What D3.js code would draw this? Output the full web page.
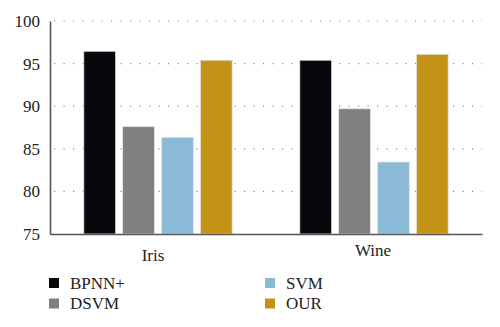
<!DOCTYPE html>
<html><head><meta charset="utf-8">
<script src="https://cdnjs.cloudflare.com/ajax/libs/d3/7.8.5/d3.min.js"></script>
<style>body{margin:0;background:#fff}svg{display:block}svg text{font-family:"Liberation Serif","DejaVu Serif",serif}</style>
</head><body>
<script>
const categories = ["Iris", "Wine"];
const seriesNames = ["BPNN+", "DSVM", "SVM", "OUR"];
const BPNN = [96.45, 95.4];
const DSVM = [87.6, 89.7];
const SVM = [86.35, 83.45];
const OUR = [95.4, 96.1];
const yTicks = [75, 80, 85, 90, 95, 100];
const colors = ["#08080c", "#808080", "#8bbad6", "#c39318"];
const seriesValues = [BPNN, DSVM, SVM, OUR];

(function () {
const W = 500, H = 327;
const mLeft = 50, mRight = 482, mTop = 21, mBottom = 234;
const fs = 17;

const svg = d3.select("body").append("svg").attr("width", W).attr("height", H);

const y = d3.scaleLinear().domain([75, 100]).range([mBottom, mTop]);
const x0 = d3.scaleBand().domain(categories).range([mLeft, mRight]).padding(0);
const x1 = d3.scaleBand().domain(seriesNames).range([0, x0.bandwidth()])
  .paddingInner(0.18).paddingOuter(0.87);

// grid
svg.append("g").selectAll("line").data(yTicks.filter(t => t > 75)).join("line")
  .attr("x1", mLeft + 4).attr("x2", mRight).attr("y1", d => y(d)).attr("y2", d => y(d))
  .attr("stroke", "#8a8a8a").attr("stroke-width", 1.2)
  .attr("stroke-dasharray", "1.2,8.3").attr("stroke-linecap", "butt");

// bars
const groups = svg.append("g").selectAll("g").data(categories).join("g")
  .attr("transform", d => `translate(${x0(d)},0)`);
groups.selectAll("rect").data((c, ci) => seriesNames.map((s, si) => ({s, si, v: seriesValues[si][ci]})))
  .join("rect")
  .attr("x", d => x1(d.s)).attr("width", x1.bandwidth())
  .attr("y", d => y(d.v)).attr("height", d => y(75) - y(d.v))
  .attr("fill", d => colors[d.si])
  .attr("stroke", "#e6e6e6").attr("stroke-width", 0.8);

// y axis
const yAxis = d3.axisLeft(y).tickValues(yTicks).tickSize(0).tickPadding(10).tickFormat(d3.format("d"));
const gy = svg.append("g").attr("transform", `translate(${mLeft},0)`).call(yAxis);
gy.attr("font-family", null);
gy.select(".domain").attr("stroke", "#555").attr("stroke-width", 1.6);
gy.selectAll("text").attr("font-size", fs).attr("fill", "#222");

// x axis
const gx = svg.append("g").attr("transform", `translate(0,${mBottom})`)
  .call(d3.axisBottom(x0).tickSize(0).tickPadding(0).tickFormat(""));
gx.select(".domain").attr("stroke", "#555").attr("stroke-width", 1.6);
gx.selectAll(".tick text").remove();

const labelPos = {"Iris": {dx: -5, y: 261}, "Wine": {dx: -1, y: 256}};
svg.append("g").selectAll("text").data(categories).join("text")
  .attr("x", d => x0(d) + x0.bandwidth() / 2 + labelPos[d].dx)
  .attr("y", d => labelPos[d].y)
  .attr("text-anchor", "middle").attr("font-size", fs).attr("fill", "#222")
  .text(d => d);

// legend
const legendPos = [[49, 283], [49, 303.5], [265, 283], [265, 303.5]];
const order = [0, 1, 2, 3];
const lg = svg.append("g").selectAll("g").data(order).join("g")
  .attr("transform", i => `translate(${legendPos[i][0]},${legendPos[i][1]})`);
lg.append("rect").attr("x", 0).attr("y", -5).attr("width", 10).attr("height", 10)
  .attr("fill", i => colors[i]);
lg.append("text").attr("x", 21).attr("y", 5.5).attr("font-size", fs)
  .attr("fill", "#222").text(i => seriesNames[i]);
})();
</script>
</body></html>
